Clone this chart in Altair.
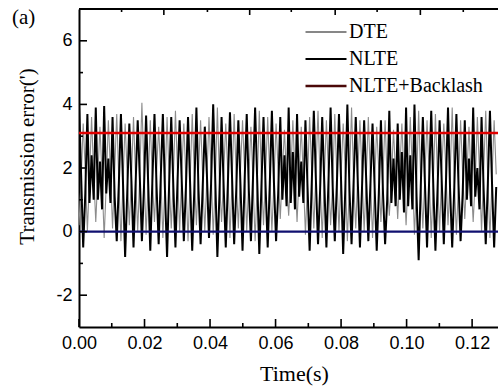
import altair as alt
import pandas as pd

# ---------------- data ----------------
dt = 0.00064  # sampling step of the time series (s)

# NLTE (thick black), 4 samples per mesh cycle: peak, mid, low, mid
nlte_values = [
    4.0, 1.8, -0.5, 1.2,   3.7, 0.9, 2.4, 1.0,   3.9, 1.0, 2.2, 0.7,   3.95, 1.2, 2.3, 0.9,
    3.6, 1.1, -0.3, 1.5,   3.7, 1.5, -0.8, 1.2,  3.4, 1.6, -0.5, 1.5,  3.5, 1.7, -0.3, 1.4,
    3.65, 1.5, -0.6, 1.6,  3.7, 1.4, -0.4, 1.7,  3.7, 1.3, -0.8, 1.5,  3.6, 1.4, -0.5, 1.6,
    3.5, 1.6, -0.3, 1.4,   3.6, 1.5, -0.6, 1.3,  3.9, 1.3, -0.4, 1.4,  3.3, 1.8, -0.2, 1.5,
    4.0, 1.6, -0.8, 1.2,   3.6, 1.4, -0.5, 1.5,  3.75, 1.7, -0.4, 1.3, 3.5, 1.5, -0.6, 1.6,
    3.7, 1.3, -0.3, 1.7,   3.9, 1.6, -0.7, 1.4,  3.6, 1.4, -0.5, 1.5,  3.8, 1.5, -0.3, 1.2,
    3.6, 1.0, 2.4, 0.8,    3.9, 0.9, 2.5, 0.7,   3.7, 1.1, 2.2, 0.9,   3.5, 1.4, -0.6, 1.5,
    3.8, 1.6, -0.4, 1.3,   3.6, 1.5, -0.5, 1.6,  3.9, 1.4, -0.3, 1.5,  3.7, 1.6, -0.7, 1.3,
    4.0, 1.3, -0.4, 1.6,   3.6, 1.5, -0.5, 1.4,  3.5, 1.6, -0.3, 1.5,  3.4, 1.4, -0.6, 1.2,
    3.5, 1.2, -0.4, 1.0,   3.8, 0.9, 2.3, 0.8,   3.4, 1.0, 2.5, 0.6,   3.9, 0.8, 2.4, 0.7,
    4.0, 1.1, -0.9, 1.4,   3.6, 1.5, -0.5, 1.6,  3.8, 1.4, -0.6, 1.3,  3.5, 1.6, -0.4, 1.5,
    3.9, 1.3, -0.5, 1.4,   3.7, 1.5, -0.3, 1.2,  3.5, 1.0, 2.3, 0.8,   3.9, 1.1, 2.0, 0.7,
    3.6, 1.3, -0.4, 1.5,   3.8, 1.5, -0.5, 1.4,
]

# DTE (thin grey), 4 samples per mesh cycle: low, mid, peak, mid
dte_values = [
    0.2, 1.6, 3.4, 1.9,   0.0, 1.7, 3.6, 1.8,   0.3, 1.8, 3.3, 1.7,   -0.2, 1.5, 3.5, 1.9,
    0.1, 1.9, 3.7, 1.6,   -0.3, 1.6, 3.4, 1.8,  0.2, 1.7, 3.6, 1.7,   0.0, 1.8, 4.05, 1.9,
    -0.1, 1.6, 3.5, 1.6,  0.3, 1.9, 3.3, 1.8,   -0.2, 1.5, 3.6, 1.7,  0.1, 1.7, 3.8, 1.9,
    0.0, 1.8, 3.4, 1.6,   -0.3, 1.6, 3.7, 1.8,  0.2, 1.9, 3.5, 1.7,   0.0, 1.7, 3.6, 1.9,
    -0.1, 1.5, 3.9, 1.6,  0.3, 1.8, 3.4, 1.8,   -0.2, 1.6, 3.7, 1.7,  0.1, 1.9, 3.5, 1.9,
    0.0, 1.7, 3.3, 1.6,   -0.3, 1.5, 3.8, 1.8,  0.2, 1.8, 3.6, 1.7,   0.0, 1.6, 3.4, 1.9,
    0.4, 1.9, 3.2, 1.6,   0.5, 1.7, 3.5, 1.8,   0.3, 1.8, 3.3, 1.7,   -0.1, 1.6, 3.6, 1.9,
    0.1, 1.9, 3.8, 1.6,   -0.2, 1.7, 3.5, 1.8,  0.2, 1.5, 3.7, 1.7,   0.0, 1.8, 3.4, 1.9,
    -0.3, 1.6, 3.9, 1.6,  0.1, 1.9, 3.5, 1.8,   0.0, 1.7, 3.6, 1.7,   -0.2, 1.5, 3.3, 1.9,
    0.3, 1.8, 3.5, 1.6,   0.5, 1.6, 3.2, 1.8,   0.4, 1.9, 3.4, 1.7,   0.2, 1.7, 3.6, 1.9,
    -0.1, 1.5, 3.8, 1.6,  0.1, 1.8, 3.5, 1.8,   -0.2, 1.6, 3.7, 1.7,  0.0, 1.9, 3.4, 1.9,
    0.2, 1.7, 3.9, 1.6,   -0.1, 1.5, 3.5, 1.8,  0.4, 1.8, 3.3, 1.7,   0.3, 1.6, 3.6, 1.9,
    0.0, 1.9, 3.8, 1.6,   -0.2, 1.7, 3.5, 1.8,
]

backlash_level = [3.1]   # red horizontal line
zero_level = [0.0]       # blue horizontal line

legend_series = ["DTE", "NLTE", "NLTE+Backlash"]
legend_colors = ["#111111", "#000000", "#4a0808"]
legend_widths = [1.2, 2.6, 2.6]

x_domain = [0.0, 0.1279]
y_domain = [-3, 7]
x_major = [0.00, 0.02, 0.04, 0.06, 0.08, 0.10, 0.12]
x_minor = [0.01, 0.03, 0.05, 0.07, 0.09, 0.11]
top_long = [0.0259, 0.0521, 0.0782, 0.1042]
top_short = [0.0130, 0.0392, 0.0648, 0.0910, 0.1173]
y_major = [-2, 0, 2, 4, 6]
y_minor = [-1, 1, 3, 5]

# ---------------- tables ----------------
nlte_df = pd.DataFrame({"t": [i * dt for i in range(len(nlte_values))], "v": nlte_values})
dte_df = pd.DataFrame({"t": [i * dt for i in range(len(dte_values))], "v": dte_values})
leg_df = pd.DataFrame({"series": legend_series})

LABEL_FONT = "Liberation Sans"
SERIF = "Liberation Serif"

xs = alt.Scale(domain=x_domain, nice=False, zero=False)
ys = alt.Scale(domain=y_domain, nice=False, zero=False)

x_axis = alt.Axis(
    values=x_major, format=".2f", ticks=False, grid=False,
    domainColor="black", domainWidth=2,
    labelFont=LABEL_FONT, labelFontSize=18, labelColor="black", labelPadding=7,
    labelFlush=False, labelOverlap=False,
    title="Time(s)", titleFont=SERIF, titleFontSize=22, titleFontWeight="normal",
    titleColor="black", titleX=215, titleY=53, titleBaseline="alphabetic",
)
y_axis = alt.Axis(
    values=y_major, labelExpr="'' + datum.value", ticks=False, grid=False,
    domainColor="black", domainWidth=2,
    labelFont=LABEL_FONT, labelFontSize=18, labelColor="black", labelPadding=7,
    title="Transmission error(')", titleFont=SERIF, titleFontSize=21,
    titleFontWeight="normal", titleColor="black", titleAngle=270,
    titleX=-46, titleY=147, titleBaseline="alphabetic", titleAlign="center",
)

dte_line = alt.Chart(dte_df).mark_line(color="#8c8c8c", strokeWidth=1.1, clip=True).encode(
    x=alt.X("t:Q", scale=xs, axis=x_axis),
    y=alt.Y("v:Q", scale=ys, axis=y_axis),
)
nlte_line = alt.Chart(nlte_df).mark_line(color="black", strokeWidth=2.0, clip=True).encode(
    x=alt.X("t:Q", scale=xs),
    y=alt.Y("v:Q", scale=ys),
)

red_rule = alt.Chart(pd.DataFrame({"y": backlash_level})).mark_rule(
    color="#e00000", strokeWidth=2.5).encode(y=alt.Y("y:Q", scale=ys))
blue_rule = alt.Chart(pd.DataFrame({"y": zero_level})).mark_rule(
    color="#101070", strokeWidth=2.2).encode(y=alt.Y("y:Q", scale=ys))

# legend (dummy invisible layer)
legend_layer = alt.Chart(leg_df).mark_line(opacity=0).encode(
    x=alt.datum(0.0, scale=xs),
    y=alt.datum(0.0, scale=ys),
    color=alt.Color(
        "series:N",
        scale=alt.Scale(domain=legend_series, range=legend_colors),
        legend=alt.Legend(
            orient="none", legendX=237, legendY=13, title=None,
            symbolType="M-4,0H4", symbolSize=105, symbolOpacity=1,
            labelFont=SERIF, labelFontSize=20, labelColor="black",
            labelOffset=13, rowPadding=7, padding=0, labelLimit=300,
        ),
    ),
    strokeWidth=alt.StrokeWidth(
        "series:N",
        scale=alt.Scale(domain=legend_series, range=legend_widths),
    ),
)

# frame: top border
top_border = alt.Chart(pd.DataFrame({"a": [0]})).mark_rule(color="black", strokeWidth=2).encode(
    x=alt.datum(x_domain[0], scale=xs), x2=alt.datum(x_domain[1]),
    y=alt.datum(y_domain[1], scale=ys),
)

# inward ticks
bot_major = alt.Chart(pd.DataFrame({"x": x_major})).mark_rule(
    color="black", strokeWidth=1.6, y2Offset=-8).encode(
    x=alt.X("x:Q", scale=xs), y=alt.datum(y_domain[0], scale=ys), y2=alt.datum(y_domain[0]))
bot_minor = alt.Chart(pd.DataFrame({"x": x_minor})).mark_rule(
    color="black", strokeWidth=1.6, y2Offset=-4).encode(
    x=alt.X("x:Q", scale=xs), y=alt.datum(y_domain[0], scale=ys), y2=alt.datum(y_domain[0]))
top_l = alt.Chart(pd.DataFrame({"x": top_long})).mark_rule(
    color="black", strokeWidth=1.6, y2Offset=6).encode(
    x=alt.X("x:Q", scale=xs), y=alt.datum(y_domain[1], scale=ys), y2=alt.datum(y_domain[1]))
top_s = alt.Chart(pd.DataFrame({"x": top_short})).mark_rule(
    color="black", strokeWidth=1.6, y2Offset=3).encode(
    x=alt.X("x:Q", scale=xs), y=alt.datum(y_domain[1], scale=ys), y2=alt.datum(y_domain[1]))
left_major = alt.Chart(pd.DataFrame({"y": y_major})).mark_rule(
    color="black", strokeWidth=1.6, x2Offset=8).encode(
    y=alt.Y("y:Q", scale=ys), x=alt.datum(x_domain[0], scale=xs), x2=alt.datum(x_domain[0]))
left_minor = alt.Chart(pd.DataFrame({"y": y_minor})).mark_rule(
    color="black", strokeWidth=1.6, x2Offset=4).encode(
    y=alt.Y("y:Q", scale=ys), x=alt.datum(x_domain[0], scale=xs), x2=alt.datum(x_domain[0]))

chart = alt.layer(
    dte_line, nlte_line, red_rule, blue_rule, legend_layer,
    top_border, bot_major, bot_minor, top_l, top_s, left_major, left_minor,
).properties(
    width=419, height=318,
    autosize=alt.AutoSizeParams(type="none"),
    padding={"left": 79, "top": 9, "right": 0, "bottom": 65},
    title=alt.TitleParams(
        "(a)", anchor="start", frame="group", font=SERIF, fontSize=21,
        fontWeight="normal", color="black", dx=-67, dy=20, offset=0,
    ),
).configure_view(stroke=None).configure(background="white")

chart.save("out.html", embed_options={"renderer": "svg", "actions": False})
